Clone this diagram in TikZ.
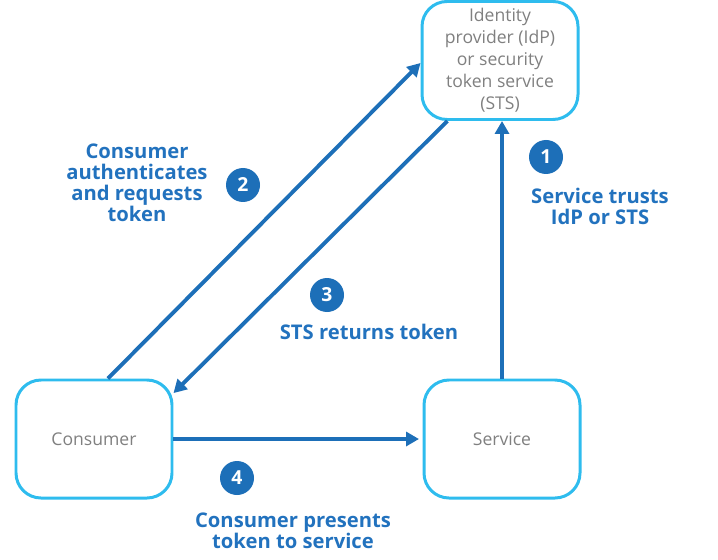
\documentclass[tikz,border=0pt]{standalone}
\usepackage{fontspec}
\setmainfont{Open Sans}
\usepackage{xcolor}
\usetikzlibrary{arrows.meta, positioning}

\definecolor{boxcyan}{HTML}{2EBCEE}
\definecolor{flowblue}{HTML}{1D6FB8}
\definecolor{labelblue}{HTML}{2272BE}
\definecolor{boxgray}{HTML}{808080}

\begin{document}
\begin{tikzpicture}[
    party/.style={draw=boxcyan, line width=1.7pt, rounded corners=0.5cm, fill=white,
        minimum width=3.12cm, minimum height=2.36cm, align=center, text=boxgray,
        font=\fontsize{10}{12.5}\selectfont},
    stepnum/.style={circle, fill=flowblue, text=white, minimum size=0.68cm, inner sep=0pt,
        font=\fontsize{11}{12}\selectfont\bfseries},
    steptext/.style={text=labelblue, align=center, font=\fontsize{11.5}{12}\selectfont\bfseries},
    flow/.style={-{Triangle[length=2.6mm,width=2.8mm]}, flowblue, line width=2.2pt},
  ]
    \useasboundingbox (0,0) rectangle (14.36,-11.18);

    % Parties
    \node[party] (idp) at (10.0,-1.21) {Identity\\provider (IdP)\\or security\\token service\\(STS)};
    \node[party] (cons) at (1.88,-8.78) {Consumer};
    \node[party] (serv) at (10.04,-8.78) {Service};

    % Arrows
    \draw[flow] (serv.north) -- (serv.north |- idp.south);
    \draw[flow] (cons.77) -- ([yshift=-0.05cm]idp.west);
    \draw[flow] (idp.229) -- (cons.30);
    \draw[flow, shorten >=2pt] (cons.east) -- (serv.west);

    % Step numbers
    \node[stepnum] (n1) at (10.92,-3.14) {1};
    \node[stepnum] (n2) at (4.86,-3.70) {2};
    \node[stepnum] (n3) at (6.54,-5.90) {3};
    \node[stepnum] (n4) at (4.74,-9.56) {4};

    % Labels
    \node[steptext] (t1) at (12.0,-4.12) {Service trusts\\IdP or STS};
    \node[steptext] (t2) at (2.74,-3.66) {Consumer\\authenticates\\and requests\\token};
    \node[steptext] (t3) at (7.38,-6.64) {STS returns token};
    \node[steptext] (t4) at (5.86,-10.62) {Consumer presents\\token to service};
  \end{tikzpicture}
\end{document}
